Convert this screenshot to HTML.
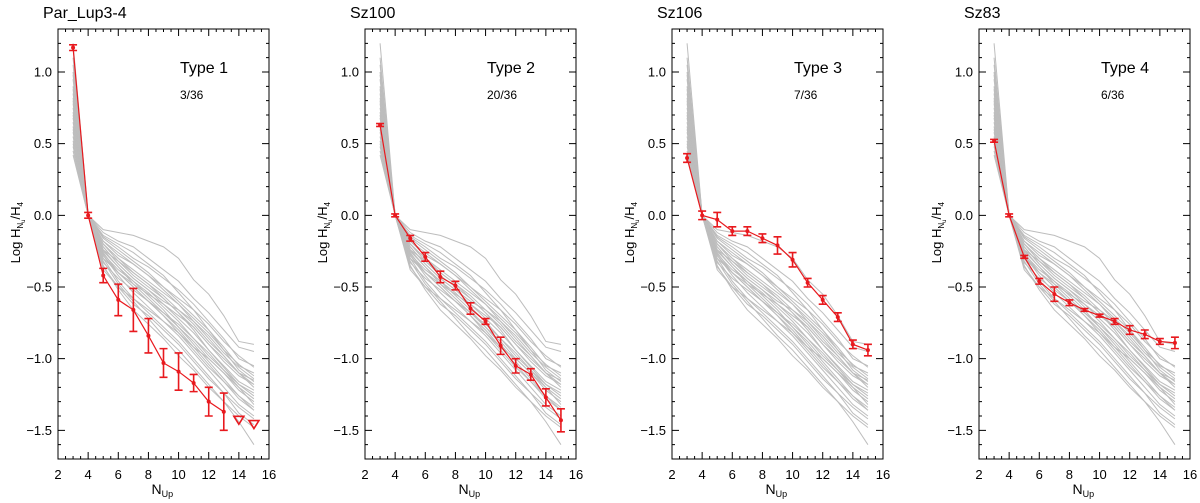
<!DOCTYPE html>
<html><head><meta charset="utf-8"><style>
body{margin:0;background:#fff}
svg{display:block;font-family:"Liberation Sans",sans-serif}
</style></head><body>
<svg id="chart" width="1200" height="503" viewBox="0 0 1200 503"></svg>
<script>
const NS="http://www.w3.org/2000/svg";
const nUp=[3,4,5,6,7,8,9,10,11,12,13,14,15];
const panelNames=["Par_Lup3-4","Sz100","Sz106","Sz83"];
const panelTypes=["Type 1","Type 2","Type 3","Type 4"];
const panelCounts=["3/36","20/36","7/36","6/36"];
const yTicks=[-1.5,-1.0,-0.5,0.0,0.5,1.0];
const yTickLabels=["\u22121.5","\u22121.0","\u22120.5","0.0","0.5","1.0"];
const xTicks=[2,4,6,8,10,12,14,16];
const red1=[1.17,0.0,-0.42,-0.59,-0.66,-0.84,-1.03,-1.09,-1.17,-1.30,-1.37];
const err1=[0.02,0.02,0.05,0.11,0.15,0.12,0.10,0.13,0.06,0.10,0.13];
const lim1N=[14,15];
const lim1=[-1.43,-1.46];
const red2=[0.63,0.0,-0.16,-0.29,-0.43,-0.49,-0.65,-0.74,-0.91,-1.05,-1.11,-1.27,-1.43];
const err2=[0.01,0.01,0.02,0.03,0.04,0.03,0.04,0.02,0.06,0.05,0.04,0.06,0.08];
const red3=[0.40,0.0,-0.03,-0.11,-0.11,-0.16,-0.21,-0.31,-0.47,-0.59,-0.71,-0.90,-0.94];
const err3=[0.03,0.03,0.05,0.03,0.03,0.03,0.06,0.05,0.03,0.03,0.03,0.03,0.04];
const red4=[0.52,0.0,-0.29,-0.46,-0.55,-0.61,-0.66,-0.70,-0.74,-0.80,-0.83,-0.88,-0.89];
const err4=[0.01,0.01,0.01,0.02,0.05,0.02,0.01,0.01,0.02,0.03,0.03,0.02,0.04];
const gray=[
[1.20,0,-0.10,-0.12,-0.14,-0.18,-0.22,-0.30,-0.45,-0.55,-0.70,-0.88,-0.90],
[1.10,0,-0.12,-0.18,-0.22,-0.30,-0.38,-0.46,-0.58,-0.68,-0.80,-0.92,-0.95],
[1.00,0,-0.15,-0.22,-0.30,-0.36,-0.44,-0.52,-0.62,-0.74,-0.86,-1.00,-1.05],
[0.95,0,-0.18,-0.28,-0.34,-0.42,-0.50,-0.60,-0.70,-0.80,-0.92,-1.05,-1.10],
[0.90,0,-0.20,-0.30,-0.40,-0.48,-0.56,-0.66,-0.76,-0.88,-0.98,-1.10,-1.15],
[0.85,0,-0.22,-0.34,-0.44,-0.52,-0.62,-0.72,-0.82,-0.94,-1.05,-1.16,-1.22],
[0.80,0,-0.25,-0.36,-0.46,-0.56,-0.66,-0.78,-0.88,-1.00,-1.10,-1.22,-1.30],
[0.78,0,-0.26,-0.40,-0.50,-0.60,-0.70,-0.80,-0.92,-1.04,-1.16,-1.28,-1.36],
[0.75,0,-0.28,-0.42,-0.54,-0.64,-0.74,-0.84,-0.96,-1.08,-1.20,-1.32,-1.40],
[0.72,0,-0.30,-0.46,-0.58,-0.68,-0.78,-0.88,-1.00,-1.12,-1.24,-1.38,-1.46],
[0.70,0,-0.32,-0.48,-0.60,-0.72,-0.84,-0.94,-1.06,-1.18,-1.30,-1.44,-1.60],
[0.68,0,-0.35,-0.52,-0.66,-0.76,-0.86,-0.98,-1.08,-1.20,-1.30,-1.40,-1.48],
[0.65,0,-0.30,-0.40,-0.48,-0.55,-0.62,-0.70,-0.78,-0.90,-1.00,-1.10,-1.18],
[0.62,0,-0.24,-0.32,-0.40,-0.48,-0.58,-0.68,-0.80,-0.94,-1.06,-1.18,-1.26],
[0.60,0,-0.18,-0.26,-0.34,-0.42,-0.52,-0.62,-0.74,-0.86,-0.98,-1.10,-1.20],
[0.58,0,-0.20,-0.30,-0.38,-0.46,-0.54,-0.62,-0.72,-0.82,-0.94,-1.04,-1.12],
[0.55,0,-0.27,-0.38,-0.46,-0.54,-0.64,-0.74,-0.86,-0.96,-1.08,-1.20,-1.32],
[0.52,0,-0.33,-0.44,-0.52,-0.60,-0.68,-0.78,-0.90,-1.02,-1.14,-1.26,-1.34],
[0.50,0,-0.38,-0.50,-0.58,-0.66,-0.74,-0.82,-0.92,-1.00,-1.10,-1.20,-1.28],
[0.48,0,-0.22,-0.34,-0.44,-0.52,-0.60,-0.66,-0.74,-0.84,-0.96,-1.06,-1.14],
[0.45,0,-0.16,-0.24,-0.32,-0.40,-0.50,-0.58,-0.66,-0.76,-0.88,-0.98,-1.06],
[0.42,0,-0.28,-0.40,-0.50,-0.60,-0.70,-0.82,-0.94,-1.06,-1.16,-1.26,-1.36],
[0.88,0,-0.24,-0.36,-0.48,-0.58,-0.68,-0.76,-0.86,-0.98,-1.08,-1.18,-1.24],
[0.98,0,-0.14,-0.20,-0.26,-0.34,-0.42,-0.54,-0.66,-0.80,-0.94,-1.08,-1.16],
[1.05,0,-0.20,-0.32,-0.42,-0.50,-0.58,-0.68,-0.78,-0.90,-1.02,-1.12,-1.18],
[0.82,0,-0.36,-0.50,-0.62,-0.70,-0.80,-0.90,-1.02,-1.14,-1.24,-1.34,-1.42]
];
const reds=[red1,red2,red3,red4];
const errs=[err1,err2,err3,err4];

const svg=document.getElementById('chart');
function el(tag,attrs,parent){const e=document.createElementNS(NS,tag);for(const k in attrs)e.setAttribute(k,attrs[k]);(parent||svg).appendChild(e);return e;}
const TOP=29,BOT=459,W=211,YMIN=-1.7,YMAX=1.3,XMIN=2,XMAX=16;
const lefts=[58,365,672,979];

for(let p=0;p<4;p++){
  const L=lefts[p];
  const g=el('g',{});
  
  
  const sx=v=>L+(v-XMIN)/(XMAX-XMIN)*W;
  const sy=v=>BOT-(v-YMIN)/(YMAX-YMIN)*(BOT-TOP);
  // gray curves
  gray.forEach((c,i)=>{
    const pl=el('polyline',{points:c.map((v,j)=>sx(nUp[j])+','+sy(v)).join(' '),fill:'none',stroke:'#bdbdbd','stroke-width':1},g);
    
    
  });
  // red
  const r=reds[p],e=errs[p];
  const rl=el('polyline',{points:r.map((v,j)=>sx(nUp[j])+','+sy(v)).join(' '),fill:'none',stroke:'#e8191e','stroke-width':1.2},g);
  
  
  r.forEach((v,j)=>{
    const x=sx(nUp[j]),y1=sy(v+e[j]),y2=sy(v-e[j]);
    const eb=el('path',{d:`M${x},${y1}V${y2}M${x-4},${y1}H${x+4}M${x-4},${y2}H${x+4}`,stroke:'#e8191e','stroke-width':1.6,fill:'none'},g);
    
    
    const pt=el('circle',{cx:x,cy:sy(v),r:2,fill:'#e8191e'},g);
    
    
  });
  if(p===0){
    lim1.forEach((v,j)=>{
      const x=sx(lim1N[j]),y=sy(v);
      const t=el('path',{d:`M${x-5},${y-4}H${x+5}L${x},${y+4}Z`,fill:'none',stroke:'#e8191e','stroke-width':1.6},g);
      
      
    });
  }
  // frame
  const fr=el('rect',{x:L,y:TOP,width:W,height:BOT-TOP,fill:'none',stroke:'#000','stroke-width':1},g);
  
  
  let d='';
  for(let v=XMIN;v<=XMAX+1e-9;v+=0.5){const x=sx(v);const len=(Math.abs(v%2)<1e-9)?7:3;d+=`M${x},${BOT}v${-len}M${x},${TOP}v${len}`;}
  for(let k=-17;k<=13;k++){const v=k/10,y=sy(v);const len=(k%5===0)?7:3;d+=`M${L},${y}h${len}M${L+W},${y}h${-len}`;}
  const tk=el('path',{d:d,stroke:'#000','stroke-width':1,fill:'none'},g);
  
  
  xTicks.forEach(v=>{const t=el('text',{x:sx(v),y:479,'text-anchor':'middle','font-size':13},g);t.textContent=v;
    });
  yTicks.forEach((v,i)=>{const t=el('text',{x:L-6,y:sy(v)+4.5,'text-anchor':'end','font-size':13},g);t.textContent=yTickLabels[i];
    });
  const xt=el('text',{x:L+W/2-12,y:494,'font-size':14},g);
  xt.innerHTML='N<tspan font-size="9" dy="3">Up</tspan>';
  
  const yt=el('text',{transform:`translate(${L-38},${sy(0)+48}) rotate(-90)`,'font-size':13},g);
  yt.innerHTML='Log H<tspan font-size="8" dy="3">N</tspan><tspan font-size="6" dy="2">u</tspan><tspan dy="-5">/H</tspan><tspan font-size="8" dy="3">4</tspan>';
  
  const ti=el('text',{x:L-15,y:18,'font-size':16},g);ti.textContent=panelNames[p];
  
  const ty=el('text',{x:L+122,y:73,'font-size':16},g);ty.textContent=panelTypes[p];
  
  const ct=el('text',{x:L+122,y:99,'font-size':12},g);ct.textContent=panelCounts[p];
  
}
</script>
</body></html>
